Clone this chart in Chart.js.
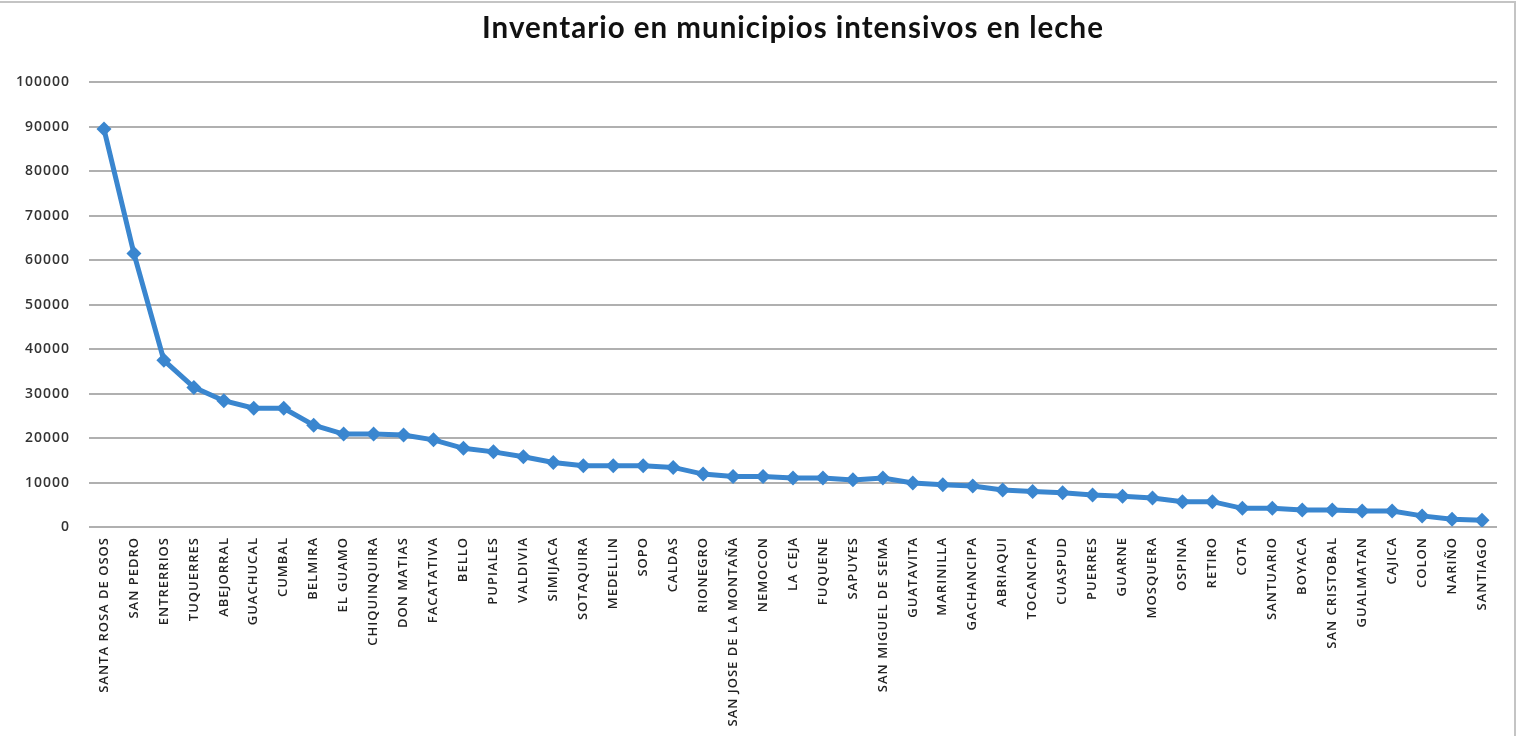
<!DOCTYPE html>
<html>
<head>
<meta charset="utf-8">
<script src="https://cdn.jsdelivr.net/npm/chart.js@4"></script>
<style>
  html, body { margin: 0; padding: 0; background: #fff; }
  #wrap { position: relative; width: 1519px; height: 736px; }
  #wrap:after { content: ""; position: absolute; left: 0; top: 1px; width: 1516px; height: 735px;
    border-top: 2px solid #c4c4c4; border-right: 2px solid #c4c4c4; box-sizing: border-box; pointer-events: none; }
</style>
</head>
<body>
<div id="wrap"><canvas id="my-chart" width="1519" height="736"></canvas></div>
<script>
// municipios (eje x)
const municipios = ["SANTA ROSA DE OSOS", "SAN PEDRO", "ENTRERRIOS", "TUQUERRES", "ABEJORRAL", "GUACHUCAL",
  "CUMBAL", "BELMIRA", "EL GUAMO", "CHIQUINQUIRA", "DON MATIAS", "FACATATIVA", "BELLO", "PUPIALES",
  "VALDIVIA", "SIMIJACA", "SOTAQUIRA", "MEDELLIN", "SOPO", "CALDAS", "RIONEGRO", "SAN JOSE DE LA MONTAÑA",
  "NEMOCON", "LA CEJA", "FUQUENE", "SAPUYES", "SAN MIGUEL DE SEMA", "GUATAVITA", "MARINILLA", "GACHANCIPA",
  "ABRIAQUI", "TOCANCIPA", "CUASPUD", "PUERRES", "GUARNE", "MOSQUERA", "OSPINA", "RETIRO", "COTA",
  "SANTUARIO", "BOYACA", "SAN CRISTOBAL", "GUALMATAN", "CAJICA", "COLON", "NARIÑO", "SANTIAGO"];

// inventario
const inventario = [89500, 61500, 37500, 31400, 28400, 26700, 26700, 22900, 20900, 20900,
  20700, 19600, 17700, 16900, 15800, 14500, 13800, 13800, 13800, 13400,
  11900, 11350, 11350, 11000, 11000, 10600, 11000, 9900, 9500, 9200,
  8300, 8000, 7700, 7200, 6900, 6500, 5700, 5700, 4200, 4200,
  3800, 3800, 3600, 3600, 2500, 1750, 1500];

const titulo = "Inventario en municipios intensivos en leche";
const azul = "#3a86cf";

// el texto del original es un poco mas ancho
const espaciado = {
  id: 'espaciado',
  beforeDraw(chart) { chart.ctx.letterSpacing = '1px'; }
};

new Chart(document.getElementById("my-chart"), {
  type: 'line',
  plugins: [espaciado],
  data: {
    labels: municipios,
    datasets: [{
      label: "Inventario",
      data: inventario,
      borderColor: azul,
      backgroundColor: azul,
      borderWidth: 5,
      tension: 0,
      fill: false,
      pointStyle: 'rectRot',
      pointRadius: 7.5,
      pointBorderWidth: 0,
      pointBackgroundColor: azul
    }]
  },
  options: {
    responsive: false,
    animation: false,
    layout: { padding: { left: 0, right: 22, top: 0, bottom: 0 } },
    plugins: {
      legend: { display: false },
      tooltip: { enabled: false },
      title: {
        display: true,
        fullSize: false, // centrado sobre el area del grafico
        text: titulo,
        color: '#111',
        font: { family: 'Lato', size: 29.5, weight: 'bold' },
        padding: { top: 11, bottom: 36 }
      }
    },
    scales: {
      x: {
        offset: true,
        grid: { display: false, drawTicks: false },
        border: { display: false },
        ticks: {
          autoSkip: false,
          minRotation: 90,
          maxRotation: 90,
          padding: 10,
          color: '#222',
          font: { family: 'Open Sans', size: 13, weight: '600' }
        },
        afterFit: (s) => { s.height = 209; }
      },
      y: {
        min: 0,
        max: 100000,
        grid: { color: '#b0b0b0', lineWidth: 2, drawTicks: false },
        border: { display: false },
        ticks: {
          stepSize: 10000,
          padding: 19,
          color: '#333',
          font: { family: 'Open Sans', size: 14, weight: '600' },
          callback: (v) => String(v)
        },
        afterFit: (s) => { s.width = 89; }
      }
    }
  }
});
</script>
</body>
</html>
